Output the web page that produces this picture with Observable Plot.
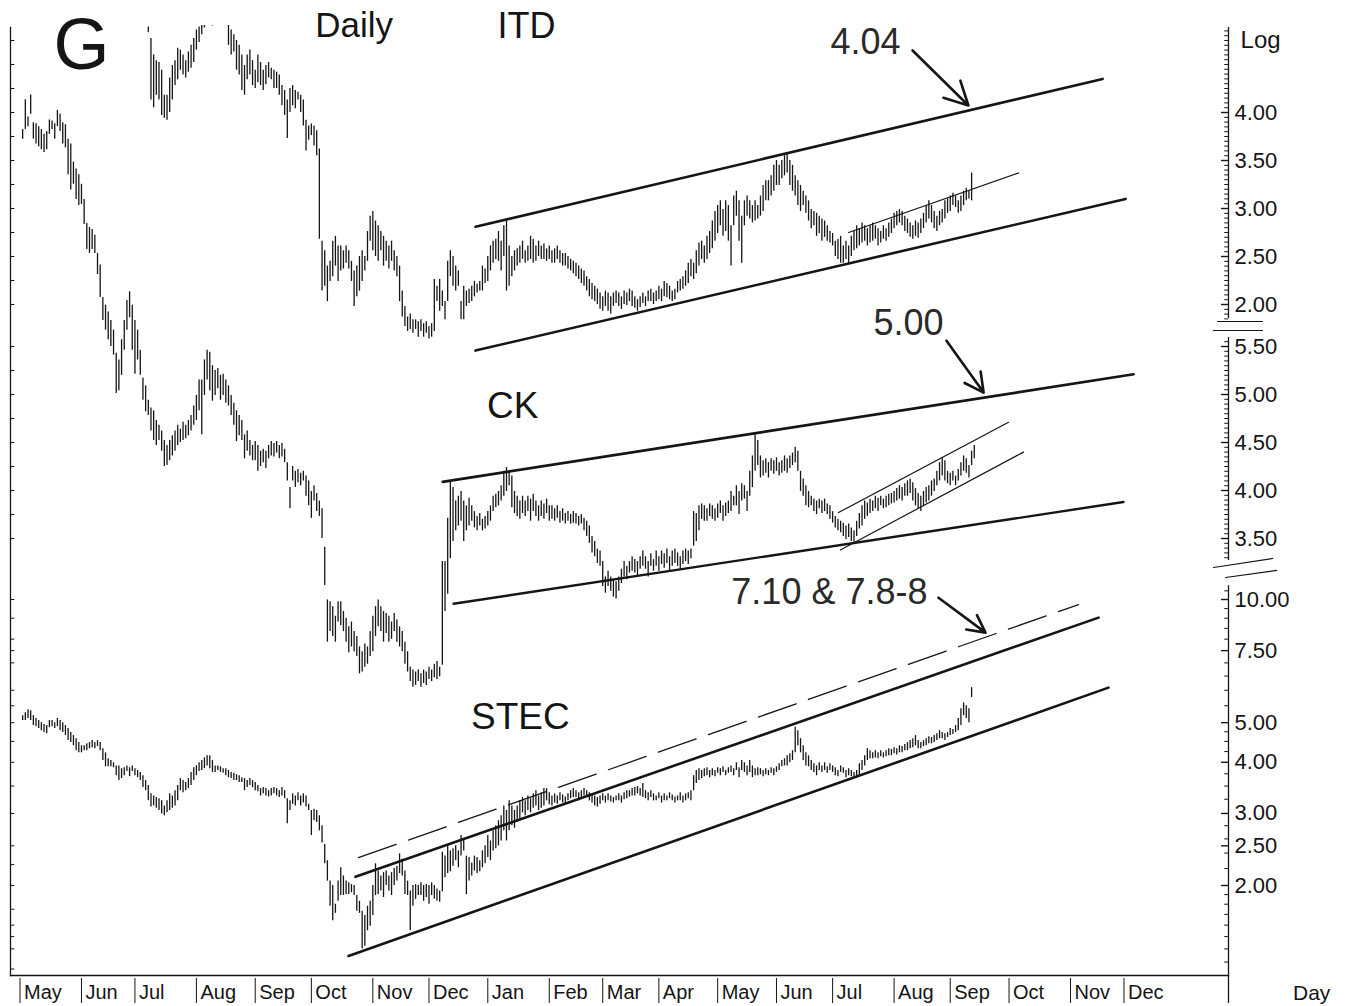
<!DOCTYPE html>
<html>
<head>
<meta charset="utf-8">
<script src="https://cdn.jsdelivr.net/npm/d3@7"></script>
<script src="https://cdn.jsdelivr.net/npm/@observablehq/plot@0.6"></script>
<style>
  html, body { margin: 0; padding: 0; background: #fff; }
  #chart { position: relative; width: 1351px; height: 1006px; overflow: hidden; background: #fff; }
  #chart > svg { position: absolute; left: 0; top: 0; }
</style>
</head>
<body>
<div id="chart"></div>
<script>
// ---------- DATA (x = trading-day index counted from Mon 2002-04-29) ----------
const baseDate = "2002-04-29";
const months = ["May","Jun","Jul","Aug","Sep","Oct","Nov","Dec","Jan","Feb","Mar","Apr","May","Jun","Jul","Aug","Sep","Oct","Nov","Dec"];
const monthStarts = ["2002-05-01","2002-06-03","2002-07-01","2002-08-01","2002-09-02","2002-10-01","2002-11-01","2002-12-02",
  "2003-01-01","2003-02-03","2003-03-03","2003-04-01","2003-05-01","2003-06-02","2003-07-01","2003-08-01","2003-09-01","2003-10-01","2003-11-03","2003-12-01"];

// ITD daily high / low (linear panel), first bar = day 50
const itdStart = 50;
const itdHigh = [
4.89,4.77,4.60,4.54,4.52,4.44,4.18,4.18,4.36,4.49,
4.54,4.67,4.65,4.60,4.54,4.63,4.70,4.77,4.86,4.89,
5.02,5.07,5.12,5.17,5.09,5.12,5.17,5.15,5.12,5.07,
4.94,4.86,4.81,4.75,4.70,4.60,4.49,4.60,4.65,4.54,
4.44,4.60,4.52,4.44,4.49,4.52,4.46,4.44,4.42,4.39,
4.28,4.23,4.13,4.25,4.28,4.23,4.21,4.18,4.13,3.92,
3.86,3.88,3.86,3.81,3.62,2.66,2.56,2.40,2.45,2.66,
2.71,2.61,2.61,2.56,2.61,2.56,2.45,2.35,2.40,2.50,
2.56,2.50,2.76,2.92,2.97,2.87,2.82,2.76,2.71,2.66,
2.61,2.66,2.56,2.50,2.40,2.14,1.98,1.87,1.90,1.84,
1.84,1.82,1.84,1.80,1.82,1.77,1.80,2.26,2.19,2.26,
2.14,2.03,2.45,2.56,2.50,2.40,2.35,2.03,2.19,2.14,
2.16,2.19,2.24,2.21,2.24,2.40,2.37,2.50,2.61,2.66,
2.68,2.76,2.66,2.82,2.87,2.61,2.50,2.56,2.58,2.61,
2.66,2.56,2.61,2.71,2.68,2.61,2.66,2.61,2.63,2.58,
2.61,2.56,2.58,2.61,2.56,2.53,2.53,2.50,2.47,2.45,
2.43,2.40,2.37,2.35,2.29,2.26,2.22,2.19,2.16,2.12,
2.08,2.14,2.12,2.08,2.12,2.14,2.12,2.08,2.14,2.12,
2.16,2.14,2.08,2.05,2.08,2.12,2.08,2.14,2.16,2.12,
2.14,2.19,2.16,2.24,2.22,2.19,2.14,2.16,2.24,2.26,
2.29,2.35,2.43,2.47,2.43,2.56,2.64,2.66,2.61,2.71,
2.76,2.87,2.97,3.03,3.08,2.99,3.08,3.03,2.82,3.13,
3.18,3.08,2.92,3.08,3.13,3.08,3.03,3.08,3.03,3.13,
3.24,3.29,3.29,3.34,3.45,3.50,3.45,3.50,3.55,3.58,
3.50,3.45,3.34,3.29,3.24,3.18,3.13,3.08,2.99,2.97,
2.95,2.92,2.89,2.87,2.82,2.76,2.74,2.66,2.68,2.71,
2.61,2.66,2.61,2.71,2.76,2.82,2.79,2.85,2.82,2.79,
2.82,2.85,2.82,2.79,2.76,2.82,2.79,2.85,2.89,2.95,
2.97,2.99,2.97,2.92,2.89,2.85,2.82,2.87,2.85,2.89,
2.95,3.03,3.08,3.03,2.97,2.92,2.97,2.99,3.08,3.10,
3.13,3.16,3.13,3.08,3.13,3.18,3.21,3.18,3.37];
const itdLow = [
4.83,4.13,4.05,4.18,4.13,3.97,3.94,3.92,4.00,4.13,
4.28,4.34,4.44,4.39,4.36,4.42,4.46,4.52,4.65,4.73,
4.81,4.88,4.92,4.94,4.90,4.96,4.98,4.96,4.94,4.92,
4.70,4.60,4.63,4.44,4.39,4.23,4.18,4.34,4.39,4.28,
4.25,4.31,4.28,4.23,4.29,4.36,4.34,4.25,4.25,4.18,
4.07,3.97,3.73,4.00,4.07,4.04,4.13,4.00,3.86,3.60,
3.71,3.76,3.65,3.55,2.68,2.14,2.19,2.03,2.24,2.29,
2.40,2.24,2.35,2.37,2.43,2.37,2.24,1.98,2.08,2.14,
2.24,2.35,2.45,2.66,2.56,2.50,2.45,2.56,2.40,2.45,
2.37,2.45,2.35,2.29,2.03,1.87,1.77,1.72,1.74,1.70,
1.74,1.66,1.72,1.66,1.70,1.64,1.66,1.72,2.03,1.93,
1.98,1.84,2.03,2.29,2.19,2.14,2.19,1.84,1.84,1.98,
2.01,2.03,2.08,2.12,2.14,2.14,2.22,2.24,2.35,2.43,
2.47,2.45,2.35,2.50,2.14,2.19,2.29,2.35,2.40,2.43,
2.47,2.43,2.45,2.47,2.43,2.45,2.50,2.47,2.47,2.45,
2.47,2.43,2.43,2.47,2.43,2.40,2.40,2.37,2.35,2.32,
2.29,2.26,2.22,2.19,2.14,2.08,2.05,2.03,2.00,1.95,
1.93,1.98,1.93,1.90,1.98,2.01,1.98,1.95,2.00,1.99,
2.03,1.98,1.96,1.93,1.97,2.01,1.98,2.03,2.03,2.00,
2.03,2.05,2.03,2.08,2.07,2.05,2.03,2.05,2.12,2.14,
2.16,2.19,2.22,2.29,2.26,2.32,2.40,2.47,2.43,2.47,
2.53,2.58,2.66,2.74,2.82,2.71,2.76,2.66,2.40,2.82,
2.92,2.66,2.43,2.82,2.92,2.89,2.85,2.87,2.89,2.92,
2.97,3.08,3.08,3.13,3.18,3.24,3.24,3.31,3.34,3.37,
3.24,3.18,3.13,3.03,2.97,3.03,2.95,2.87,2.79,2.82,
2.71,2.74,2.66,2.70,2.66,2.64,2.61,2.50,2.47,2.43,
2.43,2.47,2.42,2.50,2.56,2.58,2.61,2.64,2.66,2.61,
2.64,2.66,2.68,2.61,2.64,2.68,2.66,2.70,2.74,2.79,
2.82,2.85,2.82,2.76,2.74,2.70,2.68,2.71,2.69,2.74,
2.79,2.85,2.89,2.85,2.79,2.76,2.82,2.85,2.89,2.95,
2.97,3.03,3.01,2.95,2.97,3.03,3.08,3.10,3.08];

// CK daily high / low (linear panel), first bar = day 3
const ckStart = 3;
const ckHigh = [
7.76,8.07,7.89,8.12,7.83,7.82,7.79,7.76,7.71,7.74,
7.86,7.85,7.82,7.96,7.92,7.83,7.81,7.66,7.61,7.42,
7.35,7.29,7.19,7.03,6.78,6.74,6.72,6.66,6.47,6.35,
6.01,5.93,5.86,5.77,5.67,5.43,5.36,5.57,5.77,5.98,
6.07,5.93,5.77,5.67,5.46,5.17,5.09,4.94,4.86,4.83,
4.73,4.68,4.62,4.52,4.47,4.52,4.57,4.62,4.68,4.64,
4.71,4.68,4.73,4.78,4.88,4.99,5.15,5.15,5.36,5.46,
5.44,5.30,5.25,5.27,5.20,5.21,5.15,5.09,4.99,4.91,
4.83,4.78,4.73,4.58,4.62,4.52,4.47,4.51,4.47,4.41,
4.43,4.41,4.47,4.51,4.49,4.51,4.47,4.49,4.43,4.29,
4.03,4.25,4.20,4.22,4.18,4.20,4.15,4.10,3.99,4.05,
3.97,3.89,3.81,3.41,2.86,2.84,2.79,2.69,2.84,2.84,
2.74,2.67,2.58,2.63,2.53,2.48,2.37,2.32,2.40,2.37,
2.53,2.69,2.79,2.86,2.79,2.74,2.72,2.69,2.63,2.72,
2.65,2.58,2.53,2.42,2.32,2.16,2.13,2.11,2.13,2.09,
2.13,2.11,2.16,2.13,2.19,2.22,2.16,3.26,3.26,3.71,
4.10,4.03,3.89,3.94,3.99,3.89,3.84,3.92,3.84,3.78,
3.73,3.76,3.70,3.73,3.78,3.84,3.94,3.96,3.99,4.05,
4.20,4.24,4.20,4.15,3.99,3.94,3.89,3.94,3.89,3.94,
3.91,3.96,3.89,3.84,3.89,3.86,3.91,3.84,3.84,3.81,
3.84,3.78,3.81,3.76,3.78,3.75,3.78,3.76,3.73,3.75,
3.71,3.68,3.63,3.52,3.47,3.39,3.37,3.26,3.10,3.16,
3.10,3.07,3.05,3.10,3.18,3.26,3.21,3.26,3.31,3.28,
3.26,3.31,3.37,3.31,3.26,3.34,3.28,3.37,3.31,3.37,
3.34,3.39,3.31,3.37,3.39,3.35,3.31,3.37,3.39,3.37,
3.39,3.78,3.76,3.84,3.86,3.84,3.81,3.86,3.84,3.81,
3.86,3.89,3.84,3.87,3.89,3.99,3.94,4.05,3.99,4.07,
4.05,3.99,4.20,4.36,4.59,4.52,4.36,4.31,4.33,4.29,
4.33,4.31,4.34,4.29,4.31,4.36,4.33,4.36,4.39,4.45,
4.41,4.20,4.12,4.05,3.99,3.94,3.91,3.89,3.91,3.89,
3.91,3.86,3.84,3.78,3.73,3.70,3.68,3.66,3.63,3.65,
3.61,3.58,3.68,3.76,3.84,3.89,3.87,3.91,3.89,3.94,
3.92,3.94,3.91,3.94,3.96,3.97,3.99,4.02,4.05,4.03,
4.07,4.10,4.12,4.08,4.02,3.97,3.94,3.99,4.03,4.05,
4.10,4.12,4.20,4.29,4.34,4.31,4.20,4.18,4.20,4.15,
4.22,4.29,4.36,4.33,4.26,4.41,4.47];
const ckLow = [
7.66,7.76,7.79,7.92,7.66,7.61,7.58,7.55,7.52,7.55,
7.71,7.76,7.66,7.79,7.74,7.61,7.57,7.29,7.13,7.19,
7.03,6.97,6.98,6.77,6.51,6.47,6.51,6.47,6.25,6.01,
5.77,5.67,5.57,5.50,5.41,5.01,5.04,5.20,5.46,5.67,
5.80,5.46,5.21,5.36,5.20,4.94,4.82,4.78,4.62,4.52,
4.47,4.52,4.41,4.25,4.26,4.31,4.36,4.41,4.47,4.50,
4.52,4.54,4.57,4.62,4.68,4.73,4.83,4.58,4.99,5.15,
5.04,4.93,4.99,5.06,4.94,4.99,4.91,4.88,4.78,4.68,
4.51,4.57,4.52,4.33,4.41,4.36,4.31,4.31,4.20,4.25,
4.29,4.23,4.33,4.36,4.35,4.39,4.33,4.35,4.29,4.10,
3.81,4.10,4.03,4.08,4.05,4.10,3.94,3.84,3.71,3.89,
3.78,3.73,3.50,3.01,2.42,2.53,2.48,2.42,2.63,2.59,
2.53,2.42,2.31,2.37,2.32,2.27,2.09,2.11,2.16,2.19,
2.27,2.32,2.48,2.58,2.53,2.42,2.51,2.42,2.45,2.53,
2.42,2.37,2.32,2.19,2.11,2.01,1.95,1.97,2.01,1.95,
1.99,1.97,2.03,2.01,2.05,2.03,2.06,2.18,2.74,2.92,
3.29,3.47,3.58,3.63,3.68,3.47,3.58,3.63,3.68,3.61,
3.58,3.63,3.58,3.60,3.63,3.68,3.78,3.82,3.84,3.89,
3.94,3.99,4.05,3.82,3.76,3.73,3.70,3.76,3.73,3.78,
3.68,3.78,3.73,3.68,3.73,3.70,3.76,3.68,3.70,3.68,
3.71,3.66,3.68,3.65,3.68,3.65,3.66,3.65,3.63,3.65,
3.58,3.52,3.45,3.35,3.31,3.24,3.21,3.00,2.93,3.00,
2.95,2.89,2.87,2.95,3.03,3.10,3.07,3.14,3.16,3.14,
3.10,3.18,3.21,3.18,3.10,3.21,3.16,3.21,3.16,3.23,
3.19,3.24,3.16,3.21,3.24,3.21,3.18,3.23,3.26,3.23,
3.29,3.42,3.47,3.58,3.70,3.68,3.68,3.73,3.70,3.68,
3.71,3.76,3.68,3.73,3.76,3.78,3.84,3.84,3.75,3.89,
3.91,3.78,3.94,4.03,4.20,4.26,4.13,4.15,4.18,4.13,
4.20,4.17,4.20,4.15,4.18,4.20,4.18,4.23,4.26,4.29,
4.20,3.99,3.94,3.84,3.82,3.84,3.78,3.75,3.81,3.76,
3.78,3.75,3.70,3.66,3.61,3.58,3.56,3.52,3.49,3.51,
3.47,3.46,3.52,3.60,3.63,3.70,3.73,3.76,3.78,3.81,
3.78,3.84,3.81,3.82,3.84,3.86,3.87,3.89,3.91,3.89,
3.94,3.94,3.97,3.89,3.84,3.81,3.78,3.84,3.87,3.89,
3.94,3.99,4.05,4.10,4.15,4.10,4.07,4.05,4.10,4.05,
4.10,4.15,4.20,4.18,4.13,4.26,4.33];

// STEC daily high / low (log panel), first bar = day 3
const stecStart = 3;
const stecHigh = [
5.20,5.29,5.38,5.35,5.20,5.12,5.06,5.00,4.95,4.92,
5.06,5.06,5.00,5.12,5.06,5.00,4.92,4.84,4.73,4.65,
4.57,4.47,4.39,4.39,4.44,4.47,4.52,4.47,4.52,4.47,
4.32,4.22,4.08,4.04,3.99,3.92,3.92,3.86,3.88,3.92,
3.88,3.92,3.86,3.82,3.78,3.71,3.61,3.51,3.35,3.31,
3.28,3.26,3.22,3.13,3.22,3.35,3.31,3.41,3.51,3.65,
3.61,3.57,3.65,3.78,3.88,3.92,3.99,4.04,4.10,4.15,
4.15,4.04,3.92,3.92,3.90,3.86,3.86,3.82,3.78,3.76,
3.73,3.71,3.67,3.65,3.61,3.65,3.61,3.57,3.51,3.45,
3.47,3.45,3.41,3.45,3.47,3.45,3.41,3.47,3.41,3.26,
3.22,3.35,3.31,3.37,3.31,3.35,3.31,3.16,3.05,3.07,
3.05,2.96,2.80,2.52,2.30,2.05,2.00,1.80,2.05,2.21,
2.11,2.05,2.03,2.01,2.00,1.89,1.83,1.73,1.69,1.78,
1.83,2.00,2.26,2.17,2.11,2.15,2.17,2.11,2.15,2.20,
2.23,2.39,2.32,2.17,2.05,1.94,2.00,2.01,2.00,2.03,
2.00,2.01,2.00,2.03,2.00,1.96,1.94,2.41,2.36,2.50,
2.43,2.46,2.50,2.43,2.65,2.61,2.36,2.34,2.27,2.36,
2.34,2.30,2.43,2.50,2.65,2.57,2.72,2.80,2.88,2.96,
3.13,3.05,3.22,3.13,3.05,3.13,3.22,3.28,3.22,3.31,
3.26,3.35,3.41,3.31,3.37,3.45,3.45,3.37,3.31,3.35,
3.31,3.37,3.33,3.29,3.35,3.41,3.45,3.41,3.37,3.41,
3.45,3.41,3.37,3.35,3.31,3.28,3.31,3.35,3.31,3.35,
3.31,3.28,3.31,3.35,3.31,3.37,3.41,3.41,3.45,3.47,
3.49,3.45,3.55,3.41,3.37,3.41,3.35,3.31,3.37,3.31,
3.35,3.31,3.37,3.33,3.29,3.31,3.37,3.31,3.35,3.37,
3.41,3.71,3.82,3.86,3.82,3.86,3.88,3.82,3.86,3.82,
3.88,3.86,3.90,3.82,3.88,3.92,3.86,3.99,3.88,4.04,
3.99,3.92,4.04,3.92,3.86,3.88,3.86,3.82,3.86,3.82,
3.88,3.86,3.90,3.97,4.04,4.08,4.15,4.20,4.27,4.87,
4.78,4.57,4.39,4.22,4.15,4.04,3.97,3.92,3.99,3.92,
3.99,3.90,3.97,3.92,3.88,3.82,3.92,3.88,3.82,3.86,
3.82,3.78,3.82,3.97,4.04,4.15,4.32,4.27,4.22,4.27,
4.22,4.27,4.22,4.27,4.32,4.30,4.34,4.32,4.39,4.37,
4.42,4.47,4.52,4.57,4.65,4.52,4.47,4.52,4.57,4.62,
4.60,4.65,4.70,4.78,4.73,4.70,4.73,4.84,4.81,4.92,
5.12,5.41,5.59,5.50,5.41,6.09];
const stecLow = [
5.06,5.06,5.12,5.06,4.92,4.89,4.84,4.78,4.73,4.70,
4.86,4.89,4.84,4.89,4.78,4.73,4.65,4.52,4.47,4.39,
4.27,4.22,4.22,4.27,4.27,4.32,4.34,4.32,4.37,4.27,
4.04,3.90,3.90,3.90,3.88,3.71,3.61,3.65,3.71,3.80,
3.69,3.80,3.71,3.67,3.61,3.47,3.41,3.22,3.11,3.13,
3.09,3.05,2.99,2.96,3.01,3.05,3.09,3.13,3.22,3.41,
3.37,3.41,3.45,3.51,3.61,3.71,3.80,3.82,3.86,3.92,
3.86,3.78,3.78,3.82,3.78,3.76,3.71,3.67,3.65,3.61,
3.61,3.57,3.57,3.41,3.47,3.51,3.47,3.41,3.39,3.31,
3.35,3.31,3.29,3.31,3.35,3.31,3.28,3.31,3.26,2.83,
3.05,3.16,3.13,3.22,3.13,3.18,3.11,3.05,2.65,2.88,
2.85,2.72,2.54,2.26,2.05,1.78,1.64,1.71,1.83,1.89,
1.89,1.90,1.90,1.92,1.89,1.73,1.71,1.40,1.42,1.55,
1.59,1.69,1.89,1.90,1.94,1.87,2.00,1.94,1.89,2.00,
2.05,2.14,2.11,1.90,1.89,1.55,1.78,1.85,1.89,1.89,
1.83,1.87,1.80,1.89,1.85,1.83,1.82,1.93,2.09,2.14,
2.16,2.23,2.30,2.21,2.36,2.43,1.90,2.05,2.11,2.17,
2.14,2.16,2.21,2.26,2.34,2.30,2.43,2.46,2.50,2.57,
2.72,2.57,2.72,2.80,2.76,2.85,2.91,3.01,2.96,3.05,
3.01,3.09,3.13,3.05,3.09,3.13,3.22,3.15,3.13,3.18,
3.16,3.22,3.18,3.16,3.22,3.26,3.28,3.28,3.22,3.26,
3.31,3.28,3.22,3.18,3.13,3.11,3.16,3.22,3.18,3.22,
3.20,3.18,3.22,3.22,3.18,3.24,3.26,3.29,3.31,3.31,
3.35,3.31,3.28,3.26,3.22,3.28,3.22,3.22,3.26,3.18,
3.22,3.22,3.26,3.22,3.18,3.22,3.22,3.18,3.22,3.26,
3.22,3.41,3.55,3.61,3.65,3.69,3.71,3.67,3.71,3.69,
3.76,3.71,3.78,3.71,3.76,3.78,3.71,3.82,3.67,3.82,
3.78,3.71,3.78,3.67,3.71,3.71,3.73,3.69,3.73,3.71,
3.76,3.71,3.78,3.82,3.90,3.92,3.92,3.99,4.04,4.22,
4.39,4.22,4.04,3.92,3.90,3.82,3.78,3.71,3.82,3.78,
3.82,3.76,3.82,3.78,3.71,3.69,3.78,3.76,3.67,3.71,
3.69,3.65,3.67,3.71,3.82,3.92,4.04,4.08,4.08,4.10,
4.08,4.13,4.10,4.13,4.15,4.15,4.20,4.17,4.22,4.22,
4.27,4.27,4.32,4.34,4.39,4.32,4.32,4.37,4.39,4.44,
4.44,4.47,4.52,4.57,4.57,4.52,4.60,4.65,4.68,4.73,
4.78,4.92,5.20,5.12,5.00,5.76];

// Trend lines drawn on the chart: [day index, price]
const itdChannelTop = [[172.4, 2.81], [407.0, 4.35]];
const itdChannelBottom = [[172.4, 1.52], [415.6, 3.10]];
const itdMinorLine = [[312.0, 2.75], [375.6, 3.37]];
const ckChannelTop = [[160.1, 4.09], [418.6, 5.21]];
const ckChannelBottom = [[164.2, 2.82], [414.8, 3.88]];
const ckMinorTop = [[308.2, 3.77], [371.8, 4.71]];
const ckMinorBottom = [[308.9, 3.38], [377.4, 4.40]];
const stecChannelTop = [[127.5, 2.10], [405.5, 9.03]];
const stecChannelBottom = [[124.9, 1.345], [409.2, 6.09]];
const stecDashed = [[128.6, 2.34], [398.0, 9.72]];

// Axis tick labels
const itdTickLabels = [2.00, 2.50, 3.00, 3.50, 4.00];
const ckTickLabels = [3.50, 4.00, 4.50, 5.00, 5.50];
const stecTickLabels = [10.00, 7.50, 5.00, 4.00, 3.00, 2.50, 2.00];
const stecMinorTicks = [1.3,1.4,1.5,1.6,1.7,1.8,1.9,2.2,2.4,2.6,2.8,3.25,3.5,3.75,4.25,4.5,4.75,5.5,6,6.5,7,8,8.5,9,9.5,10.5];

// ---------- helpers ----------
const INK = "#151515";
const FONT = "'Liberation Sans', Arial, Helvetica, sans-serif";
const T0 = -1.55, T1 = 454.1;           // x domain (trading days) shown between the axes
function tradingIndex(s) {
  const p = s.split("-").map(Number), b = baseDate.split("-").map(Number);
  const days = Math.round((Date.UTC(p[0], p[1]-1, p[2]) - Date.UTC(b[0], b[1]-1, b[2])) / 864e5);
  return Math.floor(days / 7) * 5 + Math.min(days % 7, 5);
}
const bars = (start, hi, lo) => hi.map((h, i) => ({t: start + i, hi: h, lo: lo[i]}));
const seg = (pts) => pts.map(([t, p]) => ({t, p}));
const itdBars = bars(itdStart, itdHigh, itdLow);
const ckBars = bars(ckStart, ckHigh, ckLow);
const stecBars = bars(stecStart, stecHigh, stecLow);
const monthTicks = monthStarts.map((d, i) => ({t: tradingIndex(d), label: months[i]}));
const fmt = d => d.toFixed(2);
const range05 = (a, b) => d3.range(Math.round(a*20), Math.round(b*20)+1).map(i => i/20);

const common = {
  width: 1351, height: 1006,
  marginLeft: 10, marginRight: 123, marginTop: 25, marginBottom: 31,
  x: {type: "linear", domain: [T0, T1], range: [10, 1228], axis: null},
  style: {background: "transparent", fontFamily: FONT, overflow: "visible", color: INK}
};
const barMark = (data, clip) => Plot.ruleX(data, {x: "t", y1: "lo", y2: "hi", stroke: INK, strokeWidth: 1.3, clip});
const lineMark = (pts, w, extra = {}) => Plot.line(seg(pts), {x: "t", y: "p", stroke: INK, strokeWidth: w, ...extra});
const rightTicks = (minor, major, extra = {}) => [
  Plot.ruleY(minor, {x1: T1 - 1.4, x2: T1, stroke: INK, strokeWidth: 1}),
  Plot.ruleY(major, {x1: T1 - 2.6, x2: T1, stroke: INK, strokeWidth: 1.4}),
  Plot.text(major, {x: T1, y: d => d, text: fmt, dx: 6, textAnchor: "start", fontSize: 22, fill: INK, fontFamily: FONT, ...extra})
];
const leftTicks = (vals) => Plot.ruleY(vals, {x1: T0, x2: T0 + 1.6, stroke: INK, strokeWidth: 1});
const label = (t, p, txt, size, extra = {}) =>
  Plot.text([txt], {x: t, y: p, text: d => d, fontSize: size, fill: INK, fontFamily: FONT, lineAnchor: "middle", textAnchor: "middle", ...extra});

// ---------- base: frame, month axis ----------
const axisPlot = Plot.plot({
  ...common,
  marginTop: 27,
  style: {...common.style, background: "#fff"},
  y: {type: "linear", domain: [0, 1], range: [1003, 978], axis: null},
  marks: [
    Plot.frame({anchor: "left", stroke: INK, strokeWidth: 1.3}),
    Plot.frame({anchor: "bottom", stroke: INK, strokeWidth: 1.3}),
    Plot.ruleX(monthTicks, {x: "t", y1: 0, y2: 1, stroke: INK, strokeWidth: 1}),
    Plot.text(monthTicks, {x: "t", y: 0.42, text: "label", dx: 4, textAnchor: "start", lineAnchor: "middle", fontSize: 20, fill: INK, fontFamily: FONT}),
    label(485.2, 0.42, "Day", 21)
  ]
});

// ---------- STEC (log) ----------
const stecPlot = Plot.plot({
  ...common,
  y: {type: "log", domain: [2, 10], range: [885, 599], axis: null},
  marks: [
    barMark(stecBars, false),
    lineMark(stecChannelTop, 2.6),
    lineMark(stecChannelBottom, 2.6),
    lineMark(stecDashed, 1.3, {strokeDasharray: "40,13"}),
    Plot.ruleX([T1], {y1: 1.03, y2: 10.8, stroke: INK, strokeWidth: 1.3}),
    ...rightTicks(stecMinorTicks, stecTickLabels),
    leftTicks([1.25,1.4,1.5,1.6,1.75,2,2.25,2.5,3,3.5,4,4.5,5,5.5,6,7,7.5,8,9,10]),
    label(189.2, 5.17, "STEC", 37),
    label(304.8, 10.4, "7.10 & 7.8-8", 36, {fill: "#2a2a2a"}),
    Plot.arrow([0], {x1: 345.6, y1: 10.1, x2: 363.2, y2: 8.3, stroke: INK, strokeWidth: 2.6, headLength: 16, headAngle: 55})
  ]
});

// ---------- CK (linear) ----------
const ckPlot = Plot.plot({
  ...common,
  y: {type: "linear", domain: [3.5, 5.5], range: [538, 346], axis: null},
  marks: [
    barMark(ckBars, false),
    lineMark(ckChannelTop, 2.6),
    lineMark(ckChannelBottom, 2.4),
    lineMark(ckMinorTop, 1.2),
    lineMark(ckMinorBottom, 1.2),
    Plot.ruleX([T1], {y1: 3.27, y2: 5.594, stroke: INK, strokeWidth: 1.3}),
    ...rightTicks(range05(3.3, 5.55), ckTickLabels),
    leftTicks([3.5,3.75,4,4.25,4.5,4.75,5,5.25,5.5]),
    Plot.line([{t: 448.5, p: 3.198}, {t: 470.6, p: 3.292}], {x: "t", y: "p", stroke: INK, strokeWidth: 1.2}),
    Plot.line([{t: 453.0, p: 3.094}, {t: 472.1, p: 3.167}], {x: "t", y: "p", stroke: INK, strokeWidth: 1.2}),
    label(186.3, 4.875, "CK", 37),
    label(334.4, 5.74, "5.00", 36, {fill: "#2a2a2a"}),
    Plot.arrow([0], {x1: 348.6, y1: 5.56, x2: 362.5, y2: 5.02, stroke: INK, strokeWidth: 2.6, headLength: 16, headAngle: 55})
  ]
});

// ---------- ITD (linear) ----------
const itdPlot = Plot.plot({
  ...common,
  y: {type: "linear", domain: [2, 4], range: [304, 112], axis: null},
  marks: [
    barMark(itdBars, true),
    lineMark(itdChannelTop, 2.6),
    lineMark(itdChannelBottom, 2.6),
    lineMark(itdMinorLine, 1.2),
    Plot.ruleX([T1], {y1: 1.854, y2: 4.885, stroke: INK, strokeWidth: 1.3}),
    ...rightTicks(range05(1.85, 4.85), itdTickLabels),
    leftTicks([2,2.25,2.5,2.75,3,3.25,3.5,3.75,4,4.25,4.5,4.75]),
    Plot.ruleY([1.823], {x1: 450.0, x2: 467.2, stroke: INK, strokeWidth: 1.2}),
    Plot.ruleY([1.729], {x1: 448.5, x2: 467.2, stroke: INK, strokeWidth: 1.2}),
    label(25.0, 4.69, "G", 72),
    label(127.0, 4.90, "Daily", 35),
    label(191.5, 4.90, "ITD", 36),
    label(318.3, 4.73, "4.04", 36, {fill: "#2a2a2a"}),
    label(458.6, 4.75, "Log", 24, {textAnchor: "start"}),
    Plot.arrow([0], {x1: 335.9, y1: 4.646, x2: 356.8, y2: 4.073, stroke: INK, strokeWidth: 2.6, headLength: 16, headAngle: 55})
  ]
});

const chart = document.getElementById("chart");
[axisPlot, stecPlot, ckPlot, itdPlot].forEach(p => chart.appendChild(p));
</script>
</body>
</html>
